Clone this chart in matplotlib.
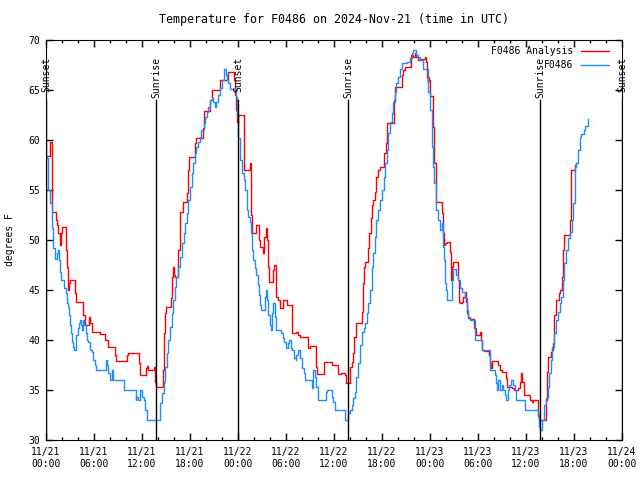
import matplotlib
matplotlib.use("Agg")
import matplotlib.pyplot as plt
from matplotlib.ticker import MultipleLocator

# hours since 11/21 00:00 UTC, temperature in degrees F
red_hours = [0.0, 0.45, 0.75, 1.3, 1.42, 1.5, 1.75, 1.9, 2.0, 2.45, 2.58, 2.7, 2.9, 3.05, 3.65, 3.8,
             4.6, 4.85, 5.4, 5.55, 5.75, 6.7, 7.4, 7.7, 8.6, 8.8, 10.1, 10.3, 11.6, 11.75, 12.45,
             12.6, 12.8, 13.55, 13.65, 13.8, 14.6, 14.75, 14.9, 15.0, 15.6, 15.75, 15.85, 15.95,
             16.1, 16.5, 16.7, 16.8, 17.1, 17.6, 17.7, 17.9, 18.6, 18.8, 19.6, 19.75, 20.5, 20.7,
             21.75, 22.8, 23.5, 23.6, 23.75, 23.85, 24.0, 24.7, 24.8, 25.45, 25.6, 25.65, 25.8,
             26.3, 26.65, 26.8, 27.15, 27.3, 27.45, 27.6, 27.7, 27.85, 28.4, 28.5, 28.7, 28.8,
             29.0, 29.25, 29.65, 30.15, 30.7, 31.3, 31.55, 31.75, 32.75, 32.95, 33.7, 33.85,
             34.75, 35.7, 36.45, 36.85, 37.4, 37.55, 37.95, 38.2, 38.4, 38.55, 38.7, 38.8, 39.45,
             39.6, 39.75, 39.9, 40.2, 40.4, 40.6, 40.75, 40.9, 41.1, 41.3, 41.5, 41.75, 42.2,
             42.3, 42.45, 42.6, 43.45, 43.6, 44.5, 44.65, 44.85, 45.65, 45.9, 46.1, 46.3, 46.5,
             46.75, 47.35, 47.5, 47.6, 47.7, 47.8, 47.9, 48.0, 48.4, 48.5, 48.7, 48.8, 49.45,
             49.6, 49.7, 49.85, 50.1, 50.5, 50.6, 50.7, 50.8, 50.9, 51.5, 51.65, 51.8, 52.0,
             52.15, 52.35, 52.5, 52.6, 52.8, 53.0, 53.5, 53.7, 53.8, 54.2, 54.4, 54.55, 54.7,
             55.4, 55.5, 55.6, 55.7, 55.8, 56.5, 56.75, 56.95, 57.5, 57.65, 58.3, 58.5, 59.0,
             59.25, 59.4, 59.55, 59.7, 60.5, 60.7, 60.9, 61.5, 61.65, 62.5, 62.6, 62.7, 63.1,
             63.3, 63.4, 63.5, 63.7, 64.1, 64.3, 64.45, 64.6, 64.7, 65.45, 65.6, 66.1, 66.3, 66.35]
red_temps = [58.4, 59.8, 52.8, 52.0, 51.5, 50.7, 49.5, 50.7, 51.3, 49.0, 47.3, 45.0, 45.7, 46.0, 44.7, 43.8,
             42.5, 41.5, 42.3, 41.7, 40.8, 40.6, 40.0, 39.3, 38.5, 37.9, 38.5, 38.7, 37.7, 36.5, 37.2,
             37.4, 37.0, 37.3, 35.8, 35.3, 37.0, 40.7, 42.7, 43.3, 44.2, 46.3, 47.3, 46.5,
             46.3, 49.0, 51.0, 52.8, 53.8, 54.7, 57.0, 58.3, 59.7, 60.2, 61.2, 62.9, 64.0, 65.0,
             66.0, 66.8, 66.0, 64.5, 63.0, 61.8, 62.5, 60.7, 57.0, 57.7, 56.0, 52.5, 50.7,
             51.5, 50.0, 49.3, 48.7, 50.3, 51.2, 50.0, 47.3, 45.8, 47.0, 47.5, 45.2, 44.3,
             44.0, 43.2, 44.0, 43.5, 40.7, 40.8, 40.5, 40.3, 39.2, 39.4, 37.3, 36.6,
             37.8, 37.5, 36.6, 36.7, 36.5, 35.7, 37.3, 37.8, 38.7, 40.3, 41.3, 41.7, 42.8,
             45.7, 47.3, 47.8, 49.2, 50.7, 52.2, 53.5, 54.0, 54.8, 56.3, 57.0, 57.3, 57.5,
             58.7, 59.7, 61.7, 64.0, 65.3, 66.5, 67.0, 67.3, 68.5, 68.3, 68.7, 68.3, 68.0,
             68.1, 68.3, 67.8, 66.3, 65.8, 66.3, 66.0, 64.4, 61.3, 57.7, 54.2, 53.8, 52.7,
             50.7, 49.5, 49.7, 49.8, 48.8, 46.0, 46.8, 47.3, 47.8, 46.0, 43.8, 43.7, 43.8,
             44.3, 44.8, 43.8, 42.7, 42.2, 42.1, 41.2, 40.8, 40.5, 40.8, 40.0, 39.0, 38.9,
             38.5, 37.7, 37.2, 37.7, 37.9, 37.5, 37.0, 36.8, 36.2, 35.3, 35.2, 35.0, 35.2,
             35.8, 36.7, 35.8, 34.5, 34.0, 33.8, 34.0, 32.5, 32.0, 34.0, 36.8, 38.3, 38.8,
             39.0, 39.7, 42.5, 44.0, 44.7, 45.0, 46.3, 49.0, 50.5, 52.0, 57.0, 57.5, 57.7, 57.7]

blue_hours = [0.08, 0.3, 0.5, 0.71, 0.92, 1.1, 1.42, 1.5, 1.6, 1.75, 1.9, 2.2, 2.3, 2.45, 2.58, 2.7,
              2.9, 3.0, 3.1, 3.3, 3.42, 3.55, 3.7, 3.8, 3.95, 4.1, 4.25, 4.4, 4.55, 4.67, 4.8,
              5.0, 5.1, 5.3, 5.5, 5.7, 5.9, 6.1, 6.3, 7.45, 7.6, 7.8, 8.0, 8.2, 8.4, 9.8, 11.2,
              11.3, 11.5, 11.75, 11.95, 12.2, 12.4, 12.6, 14.2, 14.3, 14.5, 14.7, 14.9, 15.1,
              15.3, 15.5, 15.7, 15.9, 16.1, 16.3, 16.5, 16.75, 16.95, 17.2, 17.4, 17.6, 17.8,
              18.0, 18.2, 18.4, 18.6, 18.8, 19.0, 19.25, 19.4, 19.7, 19.9, 20.1, 20.3, 20.5,
              20.7, 20.9, 21.1, 21.3, 21.5, 21.75, 21.95, 22.2, 22.3, 22.45, 22.6, 22.8, 23.0,
              23.75, 23.9, 24.05, 24.2, 24.25, 24.5, 24.7, 24.9, 25.1, 25.3, 25.5, 25.6, 25.8,
              25.9, 26.1, 26.3, 26.45, 26.6, 26.75, 26.9, 27.4, 27.5, 27.65, 27.8, 28.0, 28.1,
              28.2, 28.4, 28.6, 28.75, 29.4, 29.6, 29.8, 30.0, 30.2, 30.4, 30.6, 30.8, 31.0,
              31.2, 31.3, 31.5, 31.75, 32.0, 32.2, 32.4, 33.2, 33.4, 33.6, 33.8, 33.95, 34.95,
              35.1, 35.7, 35.9, 36.1, 37.4, 37.8, 38.0, 38.2, 38.4, 38.6, 38.8, 39.0, 39.25,
              39.5, 39.7, 39.9, 40.1, 40.3, 40.5, 40.7, 40.9, 41.1, 41.3, 41.5, 41.75, 42.0,
              42.2, 42.4, 42.6, 42.8, 43.0, 43.2, 43.4, 43.6, 43.8, 44.0, 44.25, 44.5, 45.1,
              45.5, 45.7, 45.9, 46.3, 46.5, 46.75, 47.15, 47.7, 47.8, 48.0, 48.2, 48.3, 48.4,
              48.5, 48.7, 48.8, 49.0, 49.25, 49.45, 49.6, 49.75, 49.9, 50.0, 50.15, 50.75,
              50.9, 51.2, 51.5, 51.75, 52.0, 52.4, 52.6, 52.8, 53.0, 53.6, 54.45, 55.5, 56.1,
              56.25, 56.4, 56.5, 56.75, 56.95, 57.15, 57.35, 57.5, 57.7, 57.9, 58.1, 58.35,
              58.6, 58.8, 59.9, 61.5, 61.65, 61.8, 61.95, 62.25, 62.5, 62.7, 62.9, 63.1, 63.3,
              63.5, 63.75, 64.0, 64.2, 64.4, 64.6, 64.8, 65.0, 65.3, 65.5, 65.7, 65.9, 66.1,
              66.3, 66.5, 66.75, 66.9, 67.2, 67.4, 67.7]
blue_temps = [58.2, 55.0, 53.7, 51.2, 49.2, 48.1, 48.7, 49.0, 48.0, 46.8, 46.0, 45.7, 45.2, 44.7, 43.7, 43.3,
              42.5, 41.5, 40.7, 39.8, 39.3, 39.0, 39.8, 40.5, 41.2, 41.7, 42.0, 41.5, 41.0, 42.0, 41.5,
              40.7, 40.0, 39.8, 39.0, 38.8, 38.0, 37.5, 37.0, 38.0, 37.5, 36.7, 36.0, 37.0, 36.0, 35.0, 34.0,
              34.3, 34.0, 35.0, 34.3, 34.0, 33.0, 32.0, 32.7, 33.7, 34.7, 35.8, 37.3, 38.7,
              40.0, 41.3, 42.7, 44.0, 45.3, 46.3, 47.3, 48.3, 49.7, 50.7, 51.7, 52.7, 54.0,
              55.3, 56.7, 57.7, 58.7, 59.3, 59.8, 60.3, 61.0, 61.7, 62.3, 62.8, 63.3, 64.0,
              64.2, 63.8, 63.3, 63.8, 64.5, 65.2, 66.0, 66.7, 67.1, 66.5, 66.0, 65.7, 65.1,
              64.3, 62.5, 60.2, 59.0, 58.0, 56.7, 56.0, 55.0, 53.0, 52.3, 51.8, 50.7, 49.0,
              48.0, 47.2, 46.5, 45.5, 44.5, 43.5, 43.0, 44.3, 45.0, 44.0, 42.5, 41.5, 41.0,
              42.7, 43.7, 42.3, 41.0, 40.7, 40.2, 39.8, 39.2, 39.7, 40.0, 39.2, 39.0, 38.2,
              38.0, 38.5, 39.0, 38.2, 37.2, 36.7, 36.0, 35.2, 37.0, 36.3, 35.3, 34.0, 34.8,
              35.0, 34.3, 33.8, 33.0, 32.0, 32.7, 33.0, 33.5, 34.2, 34.8, 36.3, 37.7, 39.5,
              40.8, 41.2, 41.7, 42.7, 43.7, 45.0, 47.3, 48.7, 50.3, 52.0, 53.0, 54.0, 55.0,
              56.3, 57.7, 59.0, 60.7, 61.8, 62.7, 63.8, 64.8, 65.7, 66.3, 67.1, 67.7, 67.8,
              68.2, 68.7, 69.0, 68.5, 68.3, 68.0, 67.1, 66.0, 64.8, 63.0, 61.3, 59.3, 57.3,
              55.7, 53.8, 53.0, 52.0, 51.0, 51.7, 49.3, 48.0, 45.7, 45.0, 44.0, 46.0,
              47.1, 46.5, 46.0, 45.2, 44.8, 44.2, 43.0, 42.3, 42.0, 40.0, 39.0, 37.0, 36.5,
              35.7, 35.0, 36.0, 35.0, 35.5, 35.0, 34.5, 34.0, 35.0, 35.5, 36.0, 35.5,
              35.0, 34.0, 33.0, 32.3, 31.3, 31.0, 32.0, 33.5, 34.2, 35.3, 36.7, 38.0, 39.3,
              40.7, 42.0, 42.8, 43.7, 44.3, 46.0, 47.7, 49.0, 50.2, 50.8, 52.0, 53.7, 57.3,
              57.7, 59.0, 60.3, 60.6, 61.0, 61.4, 62.1]

sun_hours = [0.0, 13.8, 24.0, 37.8, 61.8, 72.0]
sun_names = ["Sunset", "Sunrise", "Sunset", "Sunrise", "Sunrise", "Sunset"]

tick_hours = list(range(0, 73, 6))
tick_labels = ["11/21\n00:00", "11/21\n06:00", "11/21\n12:00", "11/21\n18:00",
               "11/22\n00:00", "11/22\n06:00", "11/22\n12:00", "11/22\n18:00",
               "11/23\n00:00", "11/23\n06:00", "11/23\n12:00", "11/23\n18:00",
               "11/24\n00:00"]

plt.rcParams["font.family"] = "DejaVu Sans Mono"
plt.rcParams["font.size"] = 7

fig = plt.figure(figsize=(6.4, 4.8), dpi=100)
ax = fig.add_axes([46 / 640, 40 / 480, 576 / 640, 400 / 480])

ax.plot(red_hours, red_temps, drawstyle="steps-post", color="#ff0000", lw=1.0,
        label="F0486 Analysis")
ax.plot(blue_hours, blue_temps, drawstyle="steps-post", color="#1e8cff", lw=1.0,
        label="F0486")

for h, name in zip(sun_hours, sun_names):
    ax.plot([h, h], [30, 64], color="black", lw=1.0)
    ax.text(h, 68.3, name, rotation=90, ha="center", va="top")

ax.set_xlim(0, 72)
ax.set_ylim(30, 70)
ax.set_xticks(tick_hours)
ax.set_xticklabels(tick_labels, linespacing=1.3)
ax.xaxis.set_minor_locator(MultipleLocator(2))
ax.yaxis.set_major_locator(MultipleLocator(5))
ax.tick_params(which="both", direction="in", top=True, right=True, width=1)
ax.tick_params(which="major", length=5)
ax.tick_params(which="minor", length=2.5)
ax.tick_params(axis="x", pad=5)
ax.tick_params(axis="y", pad=4)

ax.set_title("Temperature for F0486 on 2024-Nov-21 (time in UTC)", pad=12)
ax.set_ylabel("degrees F")
ax.yaxis.set_label_coords(-0.054, 0.5)

ax.legend(loc="upper right", bbox_to_anchor=(0.978, 0.985), frameon=False,
          markerfirst=False, handlelength=2.9, handletextpad=0.8,
          borderpad=0, borderaxespad=0, labelspacing=0.45)

fig.savefig("out.png", dpi=100)
